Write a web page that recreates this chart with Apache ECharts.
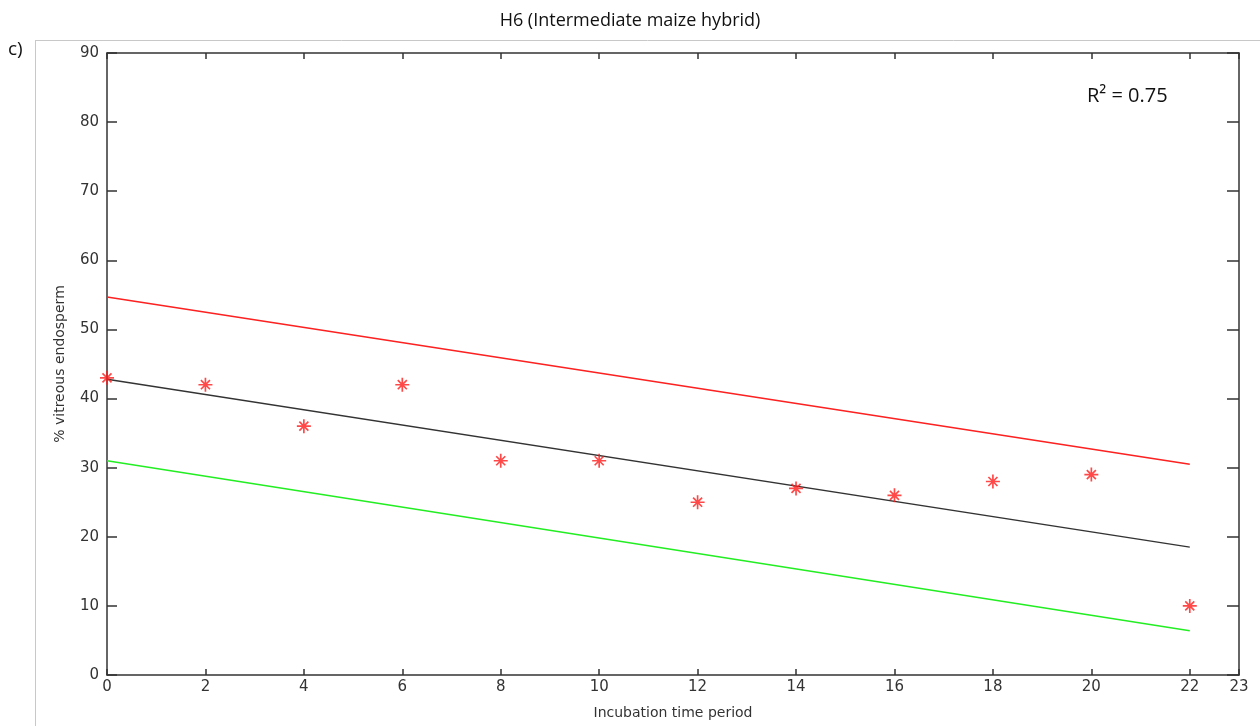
<!DOCTYPE html>
<html>
<head>
<meta charset="utf-8">
<script src="https://cdn.jsdelivr.net/npm/echarts@6/dist/echarts.min.js"></script>
<style>
  html, body { margin: 0; padding: 0; background: #fff; }
  #main { width: 1260px; height: 726px; }
</style>
</head>
<body>
<div id="main"></div>
<script>
// measured points
var incubation = [0, 2, 4, 6, 8, 10, 12, 14, 16, 18, 20, 22];
var vitreous = [43, 42, 36, 42, 31, 31, 25, 27, 26, 28, 29, 10];

// fitted line and bounds (end points)
var fitLine = [[0, 42.8], [22, 18.5]];
var upperLine = [[0, 54.7], [22, 30.5]];
var lowerLine = [[0, 31.0], [22, 6.4]];

var xTicks = [0, 2, 4, 6, 8, 10, 12, 14, 16, 18, 20, 22, 23];

// asterisk marker built from thin bars
var star = 'path://M8.8,0L11.2,0L11.2,20L8.8,20Z M0,8.8L20,8.8L20,11.2L0,11.2Z ' +
  'M2.7,4.4L4.4,2.7L17.3,15.6L15.6,17.3Z M15.6,2.7L17.3,4.4L4.4,17.3L2.7,15.6Z';

var tickFont = { fontFamily: 'DejaVu Sans', fontSize: 15, color: '#333' };

var myChart = echarts.init(document.getElementById('main'));

var option = {
  animation: false,
  title: {
    text: 'H6 (Intermediate maize hybrid)',
    left: 'center',
    top: 7,
    textStyle: { fontFamily: 'Open Sans', fontWeight: 'normal', fontSize: 18, color: '#111' }
  },
  graphic: [
    { type: 'line', shape: { x1: 35, y1: 40.5, x2: 1260, y2: 40.5 }, style: { stroke: '#c8c8c8', lineWidth: 1 } },
    { type: 'line', shape: { x1: 35.5, y1: 40, x2: 35.5, y2: 726 }, style: { stroke: '#c8c8c8', lineWidth: 1 } },
    { type: 'text', left: 8, top: 40, style: { text: 'c)', fontFamily: 'Open Sans', fontSize: 19, fill: '#111' } },
    { type: 'text', left: 1087, top: 86, style: { text: 'R² = 0.75', fontFamily: 'Open Sans', fontSize: 20, fill: '#111' } }
  ],
  grid: { left: 107, top: 53, right: 21, bottom: 51 },
  xAxis: [
    {
      type: 'value', min: 0, max: 23, position: 'bottom',
      name: 'Incubation time period', nameLocation: 'middle', nameGap: 31,
      nameTextStyle: { fontFamily: 'DejaVu Sans', fontSize: 14, color: '#333' },
      axisLine: { onZero: false, lineStyle: { color: '#333', width: 1.5 } },
      axisTick: { inside: true, length: 6, customValues: xTicks, lineStyle: { color: '#333', width: 1.5 } },
      axisLabel: Object.assign({ customValues: xTicks, margin: 5 }, tickFont),
      splitLine: { show: false }
    },
    {
      type: 'value', min: 0, max: 23, position: 'top',
      axisLine: { onZero: false, lineStyle: { color: '#333', width: 1.5 } },
      axisTick: { inside: true, length: 6, customValues: xTicks, lineStyle: { color: '#333', width: 1.5 } },
      axisLabel: { show: false },
      splitLine: { show: false }
    }
  ],
  yAxis: [
    {
      type: 'value', min: 0, max: 90, interval: 10, position: 'left',
      name: '% vitreous endosperm', nameLocation: 'middle', nameGap: 40,
      nameTextStyle: { fontFamily: 'DejaVu Sans', fontSize: 14, color: '#333' },
      axisLine: { show: true, onZero: false, lineStyle: { color: '#333', width: 1.5 } },
      axisTick: { show: true, inside: true, length: 10, lineStyle: { color: '#333', width: 1.5 } },
      axisLabel: Object.assign({ margin: 8 }, tickFont),
      splitLine: { show: false }
    },
    {
      type: 'value', min: 0, max: 90, interval: 10, position: 'right',
      axisLine: { show: true, onZero: false, lineStyle: { color: '#333', width: 1.5 } },
      axisTick: { show: true, inside: true, length: 12, lineStyle: { color: '#333', width: 1.5 } },
      axisLabel: { show: false },
      splitLine: { show: false }
    }
  ],
  series: [
    {
      type: 'line', data: upperLine, symbol: 'none',
      lineStyle: { color: '#ff2020', width: 1.4 }
    },
    {
      type: 'line', data: fitLine, symbol: 'none',
      lineStyle: { color: '#333', width: 1.4 }
    },
    {
      type: 'line', data: lowerLine, symbol: 'none',
      lineStyle: { color: '#22ee22', width: 1.4 }
    },
    {
      type: 'scatter',
      data: incubation.map(function (x, i) { return [x, vitreous[i]]; }),
      symbol: star, symbolSize: 14,
      itemStyle: { color: '#ff1a1a' },
      z: 5
    }
  ]
};

myChart.setOption(option);
</script>
</body>
</html>
